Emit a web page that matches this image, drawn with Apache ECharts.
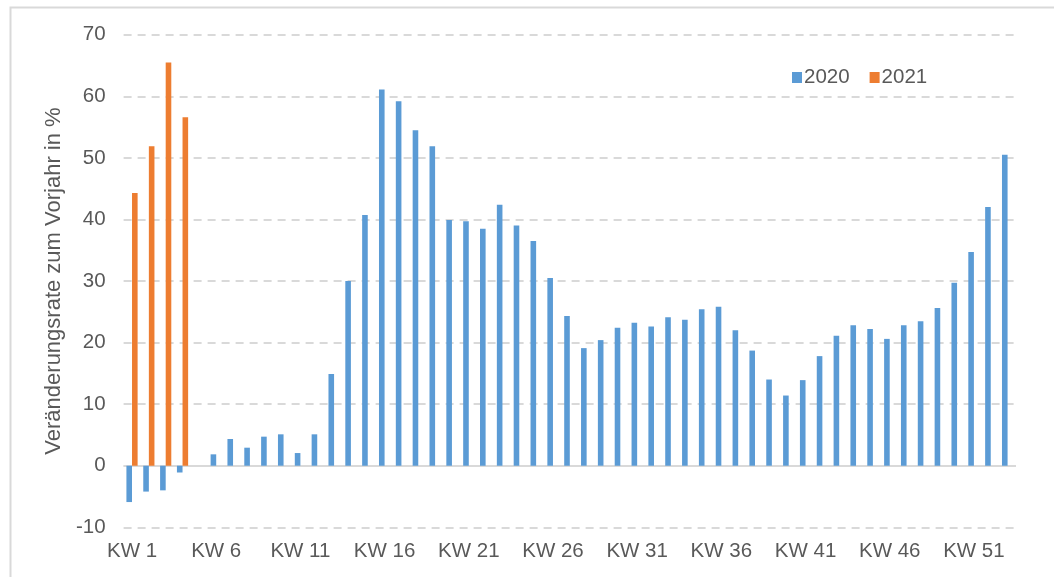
<!DOCTYPE html>
<html>
<head>
<meta charset="utf-8">
<script src="https://cdn.jsdelivr.net/npm/echarts@6/dist/echarts.min.js"></script>
<style>
  html, body { margin: 0; padding: 0; background: #ffffff; }
  #chart { width: 1054px; height: 577px; }
</style>
</head>
<body>
<div id="chart"></div>
<script>
// Weekly change rate vs. previous year, calendar weeks 1-53
const weeks = [];
for (let i = 1; i <= 53; i++) weeks.push('KW ' + i);

const values2020 = [
  -5.9, -4.2, -4.0, -1.1, 0, 1.85, 4.34, 2.93, 4.72, 5.1,
  2.06, 5.1, 14.9, 30.0, 40.7, 61.1, 59.2, 54.5, 51.9, 39.9,
  39.7, 38.5, 42.4, 39.0, 36.5, 30.5, 24.3, 19.1, 20.4, 22.4,
  23.2, 22.6, 24.1, 23.7, 25.4, 25.8, 22.0, 18.7, 14.0, 11.4,
  13.9, 17.8, 21.1, 22.8, 22.2, 20.6, 22.8, 23.45, 25.6, 29.7,
  34.7, 42.0, 50.5
];
const values2021 = [44.3, 51.9, 65.5, 56.6];

const yAxisName = 'Veränderungsrate zum Vorjahr in %';
const seriesNames = ['2020', '2021'];

const textColor = '#595959';
const gridColor = '#d9d9d9';
const fontFamily = '"Liberation Sans", Arial, sans-serif';

const chart = echarts.init(document.getElementById('chart'), null, { renderer: 'canvas' });

chart.setOption({
  animation: false,
  backgroundColor: '#ffffff',
  textStyle: { fontFamily: fontFamily },
  graphic: [{
    type: 'rect',
    left: 8, top: 5,
    shape: { width: 1200, height: 700 },
    style: { fill: 'none', stroke: gridColor, lineWidth: 2 },
    silent: true,
    z: -10
  }],
  legend: {
    left: 787, top: 62,
    itemWidth: 10, itemHeight: 11, itemGap: 20,
    icon: 'rect',
    textStyle: { color: textColor, fontSize: 20.5, fontFamily: fontFamily, padding: [0, 0, 0, -3] },
    data: seriesNames
  },
  grid: { left: 123.6, right: 38, top: 34.7, bottom: 49.7, containLabel: false },
  xAxis: {
    type: 'category',
    data: weeks,
    axisLine: { show: false, onZero: false },
    axisTick: { show: false },
    axisLabel: { interval: 4, color: textColor, fontSize: 20.5, margin: 14, fontFamily: fontFamily },
    splitLine: { show: false }
  },
  yAxis: {
    type: 'value',
    min: -10, max: 70, interval: 10,
    name: yAxisName,
    nameLocation: 'middle',
    nameGap: 53,
    nameTextStyle: { color: textColor, fontSize: 22, fontFamily: fontFamily },
    axisLine: { show: false },
    axisTick: { show: false },
    axisLabel: { color: textColor, fontSize: 20.5, margin: 18, fontFamily: fontFamily },
    splitLine: { lineStyle: { color: gridColor, width: 2, type: [8, 6] } }
  },
  series: [
    {
      name: seriesNames[0],
      type: 'bar',
      data: values2020,
      barWidth: 5.6,
      barGap: '0%',
      itemStyle: { color: '#5B9BD5' },
      markLine: {
        silent: true,
        symbol: 'none',
        label: { show: false },
        lineStyle: { color: gridColor, width: 2, type: 'solid' },
        data: [{ yAxis: 0 }],
        z: 1
      }
    },
    {
      name: seriesNames[1],
      type: 'bar',
      data: values2021,
      barWidth: 5.6,
      barGap: '0%',
      itemStyle: { color: '#ED7D31' }
    }
  ]
});
</script>
</body>
</html>
